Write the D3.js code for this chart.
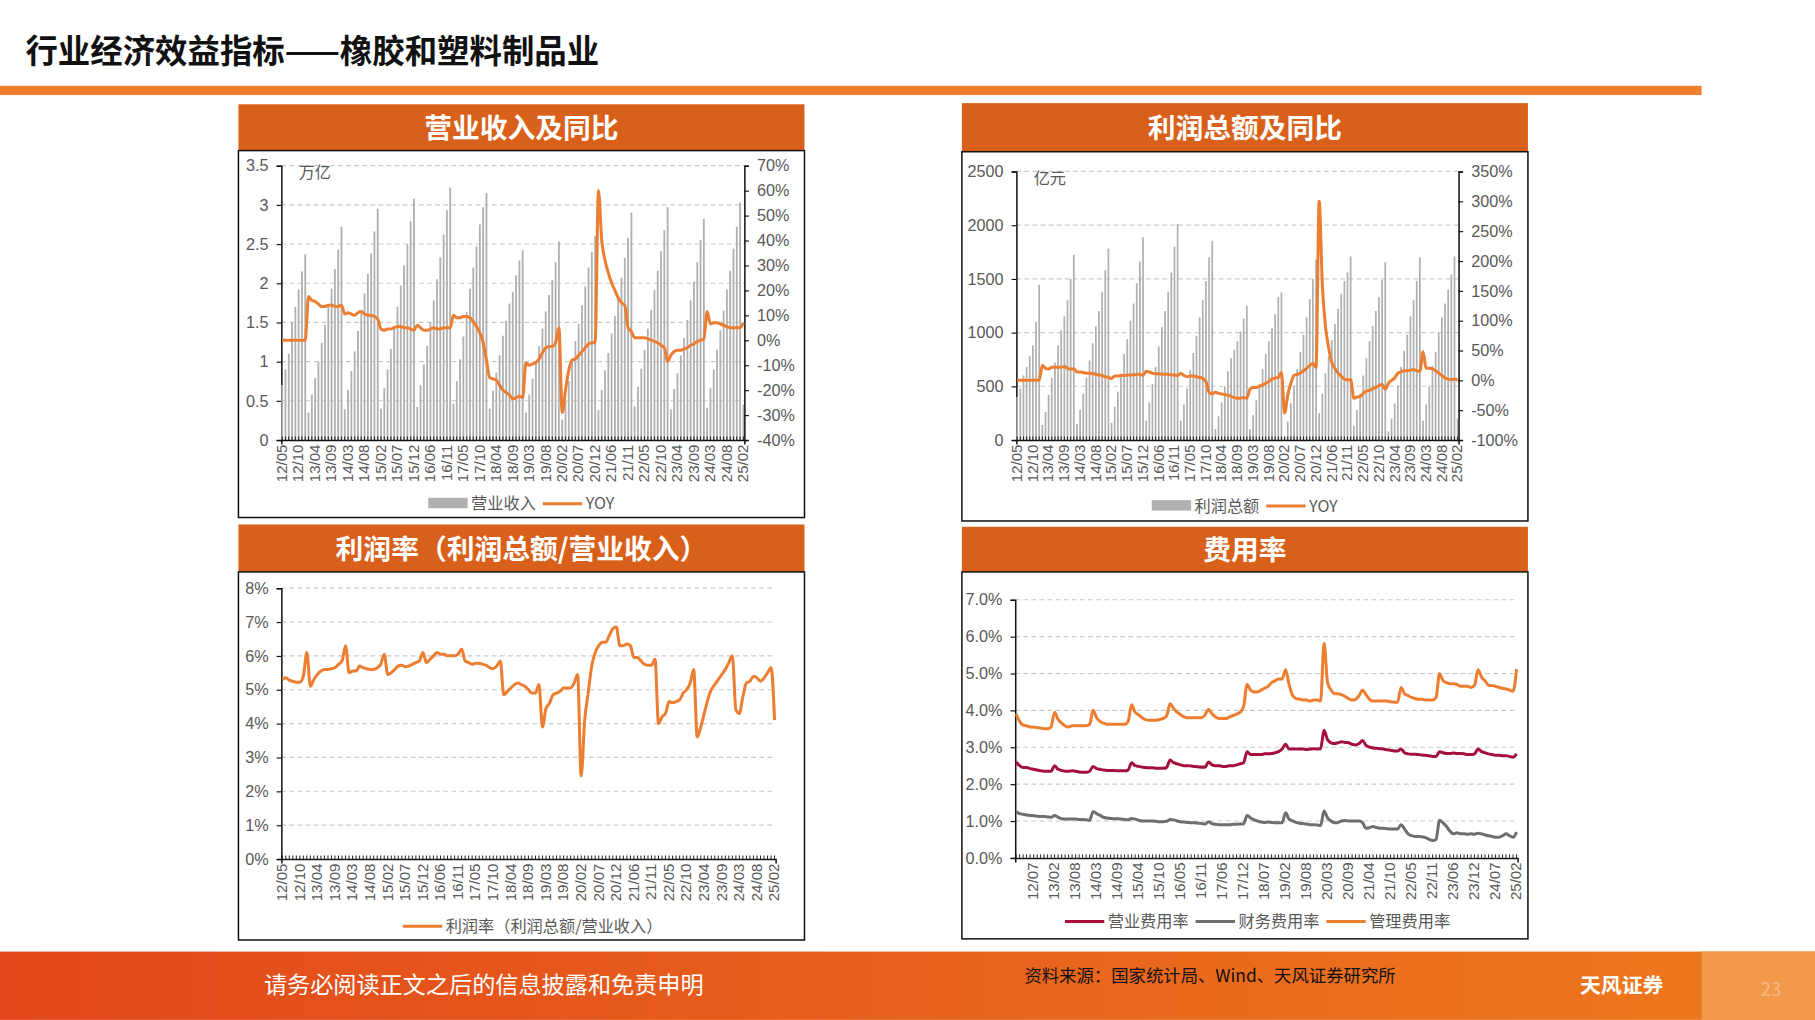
<!DOCTYPE html>
<html><head><meta charset="utf-8">
<script src="https://cdn.jsdelivr.net/npm/d3@7"></script>
<style>body{margin:0;background:#fff}svg{display:block;font-family:"Noto Sans CJK SC","Noto Sans",sans-serif}</style>
</head><body>
<svg id="c" width="1815" height="1020" viewBox="0 0 1568 881"></svg>
<script>
// monthly (Jan merged into Feb) series, 2012/05 .. 2025/02
const revenue = [
  0.70,0.90,1.10,1.50,1.70,1.92,2.15,2.37,
  0.35,0.58,0.79,1.00,1.24,1.47,1.70,1.93,2.18,2.43,2.72,
  0.39,0.64,0.88,1.13,1.39,1.63,1.87,2.12,2.38,2.66,2.95,
  0.40,0.66,0.90,1.16,1.45,1.70,1.97,2.23,2.50,2.79,3.08,
  0.42,0.70,0.96,1.20,1.50,1.78,2.05,2.33,2.62,2.93,3.22,
  0.46,0.75,1.03,1.32,1.63,1.93,2.20,2.47,2.75,2.97,3.15,
  0.40,0.63,0.86,1.08,1.33,1.52,1.74,1.89,2.10,2.29,2.42,
  0.35,0.58,0.78,1.00,1.20,1.42,1.64,1.85,2.04,2.27,2.53,
  0.26,0.50,0.75,1.00,1.26,1.48,1.72,1.96,2.20,2.40,2.60,
  0.38,0.64,0.89,1.11,1.36,1.58,1.82,2.07,2.32,2.58,2.90,
  0.43,0.68,0.91,1.15,1.42,1.66,1.91,2.16,2.41,2.68,2.97,
  0.39,0.65,0.85,1.08,1.30,1.53,1.78,2.02,2.27,2.55,2.82,
  0.41,0.66,0.90,1.15,1.40,1.65,1.92,2.16,2.44,2.72,3.03,
  0.45];
const revenueYoy = [
  0,0,0,0,0,0,0,0,
  17.5,16,15.5,14.5,13.5,13.5,14,14,13.5,13.5,14,
  10.5,11,10.5,10,11,11.5,10.5,10,10,9.5,8.5,
  4.5,4,4.5,4.5,5,5.5,5.5,5,5,4.5,4,
  6,5,4,4,4.5,5,4.5,4.5,5,5,5,
  10,9,9,9.5,9.5,9,7.5,5.5,3,-1,-8,
  -15,-15.5,-16,-18,-20,-21,-22,-23.5,-23,-22.5,-23,
  -9,-10,-9.5,-9,-7.5,-5,-3,-2.5,-2.5,-1,5,
  -29,-20,-12,-8,-7.5,-6,-4.5,-3,-1.5,-1,-1,
  60,40,32,27,23,20,17,15,14,5,3.5,
  1,1,1,1,0.5,0,-0.5,-1,-2,-3,-8.5,
  -6,-4.5,-4,-4,-3.5,-3,-2,-1.5,-0.5,0,0.5,
  11.5,6.5,7,7,6.5,6,5.5,5,5,5,5,
  7];
const profit = [
  400,480,600,680,780,880,1100,1444,
  140,260,420,580,720,880,1020,1150,1300,1500,1724,
  150,280,430,580,740,900,1060,1200,1380,1580,1780,
  160,310,450,620,800,940,1110,1270,1460,1660,1888,
  180,350,520,680,870,1050,1200,1380,1560,1800,2012,
  180,330,480,650,810,970,1140,1300,1480,1700,1854,
  100,220,350,500,640,760,840,920,1010,1130,1249,
  100,230,370,520,660,800,920,1040,1170,1330,1373,
  30,170,340,500,660,820,980,1140,1310,1500,1680,
  250,430,620,780,930,1080,1220,1360,1480,1560,1708,
  130,280,430,600,760,920,1060,1200,1330,1490,1655,
  80,200,340,510,680,830,980,1150,1300,1480,1700,
  180,330,500,690,820,1000,1140,1270,1400,1540,1708,
  200];
const profitYoy = [
  0,0,0,0,0,0,0,0,
  25,20,19,22,22,22,22,23,20,19,19,
  14,14,13,12,12,11,10,9,8,6,5,
  3,7,7,8,8,9,9,9,10,10,8,
  15,14,12,11,11,10,10,10,9,9,8,
  12,8,6,7,7,6,5,3,-2,-20,-23,
  -20,-22,-23,-24,-25,-27,-29,-30,-30,-29,-30,
  -15,-12,-12,-10,-8,-5,-2,2,4,5,13,
  -55,-25,-5,8,10,12,16,20,25,28,22,
  300,160,90,55,30,20,12,7,2,1,1,
  -30,-28,-27,-22,-18,-17,-14,-12,-9,-7,-15,
  -5,0,4,12,14,16,16,17,18,16,15,
  48,20,20,19,16,12,8,4,2,1,2,
  0];
const profitRate = [
  5.3,5.35,5.28,5.25,5.22,5.22,5.4,6.1,
  5.1,5.3,5.45,5.55,5.6,5.6,5.62,5.65,5.75,5.85,6.3,
  5.5,5.55,5.55,5.7,5.65,5.62,5.6,5.6,5.65,5.75,6.05,
  5.45,5.5,5.6,5.7,5.72,5.68,5.7,5.75,5.8,5.85,6.1,
  5.8,5.9,6.0,6.1,6.05,6.05,6.0,6.0,6.0,6.05,6.2,
  5.85,5.8,5.75,5.78,5.78,5.75,5.72,5.65,5.62,5.7,5.85,
  4.85,4.95,5.05,5.15,5.2,5.15,5.1,5.0,4.9,4.9,5.15,
  3.9,4.45,4.6,4.85,4.9,4.95,5.05,5.05,5.05,5.2,5.45,
  2.45,4.1,4.9,5.7,6.1,6.3,6.4,6.4,6.6,6.8,6.85,
  6.3,6.3,6.35,6.3,5.95,5.95,5.85,5.75,5.72,5.72,5.9,
  4.0,4.2,4.3,4.65,4.62,4.65,4.7,4.9,5.0,5.2,5.6,
  3.6,3.9,4.3,4.7,5.0,5.15,5.3,5.45,5.6,5.8,6.0,
  4.4,4.3,4.8,5.2,5.25,5.4,5.35,5.25,5.35,5.5,5.65,
  4.1];
// 2012/02 .. 2025/02
const salesFee = [
  2.6,2.5,2.45,2.45,2.42,2.4,2.38,2.36,2.35,2.35,2.35,
  2.5,2.4,2.37,2.35,2.35,2.36,2.35,2.33,2.32,2.32,2.35,
  2.48,2.42,2.4,2.38,2.37,2.37,2.37,2.36,2.36,2.36,2.38,
  2.58,2.5,2.48,2.46,2.45,2.44,2.44,2.43,2.43,2.43,2.45,
  2.65,2.58,2.55,2.52,2.5,2.5,2.49,2.48,2.47,2.46,2.46,
  2.6,2.52,2.5,2.5,2.48,2.48,2.5,2.5,2.52,2.55,2.58,
  2.88,2.8,2.8,2.8,2.8,2.82,2.82,2.83,2.85,2.88,2.95,
  3.08,2.95,2.95,2.95,2.95,2.95,2.94,2.95,2.96,2.95,2.96,
  3.45,3.2,3.12,3.1,3.12,3.15,3.13,3.12,3.08,3.06,3.1,
  3.18,3.05,3.0,2.98,2.97,2.96,2.95,2.93,2.92,2.9,2.9,
  2.95,2.85,2.82,2.81,2.81,2.8,2.79,2.78,2.77,2.75,2.75,
  2.88,2.85,2.83,2.83,2.84,2.83,2.83,2.82,2.8,2.8,2.82,
  2.95,2.88,2.85,2.82,2.8,2.78,2.78,2.77,2.77,2.75,2.73,
  2.82];
const financeFee = [
  1.25,1.2,1.18,1.16,1.15,1.14,1.13,1.12,1.12,1.11,1.1,
  1.15,1.1,1.06,1.05,1.05,1.05,1.05,1.04,1.04,1.03,1.02,
  1.25,1.2,1.15,1.1,1.08,1.07,1.06,1.06,1.05,1.04,1.03,
  1.07,1.05,1.02,1.0,1.0,1.0,1.0,0.99,0.98,0.98,0.99,
  1.04,1.03,1.0,0.98,0.97,0.96,0.95,0.95,0.94,0.93,0.92,
  0.98,0.93,0.91,0.9,0.9,0.9,0.9,0.91,0.91,0.92,0.92,
  1.15,1.08,1.03,1.0,0.97,0.96,0.97,0.96,0.95,0.95,0.95,
  1.22,1.05,1.0,0.96,0.94,0.93,0.92,0.9,0.9,0.89,0.88,
  1.27,1.08,1.0,0.95,0.96,1.0,1.01,1.0,1.0,1.0,1.0,
  0.95,0.8,0.82,0.85,0.82,0.8,0.8,0.79,0.78,0.78,0.78,
  0.9,0.78,0.65,0.6,0.58,0.58,0.57,0.55,0.5,0.47,0.5,
  1.02,0.95,0.85,0.72,0.65,0.68,0.65,0.65,0.64,0.65,0.64,
  0.67,0.65,0.62,0.6,0.58,0.56,0.56,0.6,0.65,0.6,0.56,
  0.7];
const adminFee = [
  3.9,3.7,3.6,3.58,3.55,3.55,3.53,3.52,3.5,3.5,3.55,
  3.95,3.75,3.65,3.58,3.55,3.58,3.58,3.58,3.58,3.58,3.62,
  4.0,3.8,3.7,3.65,3.62,3.62,3.62,3.62,3.62,3.62,3.7,
  4.15,3.95,3.88,3.8,3.75,3.73,3.73,3.73,3.75,3.78,3.85,
  4.18,4.05,3.95,3.88,3.82,3.8,3.8,3.8,3.8,3.8,3.88,
  4.02,3.9,3.82,3.78,3.78,3.78,3.82,3.86,3.9,3.95,4.1,
  4.7,4.55,4.5,4.5,4.55,4.6,4.65,4.75,4.8,4.85,4.85,
  5.1,4.7,4.4,4.32,4.3,4.28,4.28,4.25,4.28,4.28,4.25,
  5.82,4.75,4.55,4.45,4.45,4.42,4.38,4.32,4.28,4.3,4.4,
  4.55,4.42,4.3,4.25,4.25,4.25,4.25,4.25,4.23,4.22,4.22,
  4.62,4.45,4.4,4.35,4.32,4.3,4.3,4.28,4.28,4.28,4.35,
  5.0,4.8,4.75,4.72,4.72,4.7,4.65,4.65,4.65,4.62,4.68,
  5.1,4.9,4.8,4.68,4.67,4.65,4.62,4.6,4.58,4.55,4.52,
  5.12];

function months(startYear, startMonth, n) {
  const out = [];
  let y = startYear, m = startMonth;
  while (out.length < n) {
    if (m !== 1) out.push(String(y % 100).padStart(2, '0') + '/' + String(m).padStart(2, '0'));
    m++; if (m > 12) { m = 1; y++; }
  }
  return out;
}
const monthsA = months(2012, 5, revenue.length);
const monthsB = months(2012, 2, salesFee.length);

const ORANGE = '#ED7D31', GREY = '#595959';
const svg = d3.select('#c');

// page chrome
svg.append('text').attr('x', 22).attr('y', 54).attr('font-size', 28).attr('font-weight', 700)
  .attr('fill', '#111').text('行业经济效益指标——橡胶和塑料制品业');
svg.append('rect').attr('x', 0).attr('y', 74).attr('width', 1470).attr('height', 8).attr('fill', '#EE7D2E');
const grad = svg.append('defs').append('linearGradient').attr('id', 'fg');
grad.append('stop').attr('offset', '0').attr('stop-color', '#E2481B');
grad.append('stop').attr('offset', '1').attr('stop-color', '#EE7A1E');
svg.append('rect').attr('x', 0).attr('y', 822).attr('width', 1568).attr('height', 59).attr('fill', 'url(#fg)');
svg.append('rect').attr('x', 1470).attr('y', 822).attr('width', 98).attr('height', 59).attr('fill', '#F29A4A');
svg.append('text').attr('x', 228).attr('y', 858).attr('font-size', 20).attr('fill', '#fff').text('请务必阅读正文之后的信息披露和免责申明');
svg.append('text').attr('x', 885).attr('y', 848).attr('font-size', 15).attr('fill', '#111').text('资料来源：国家统计局、Wind、天风证券研究所');
svg.append('text').attr('x', 1365).attr('y', 858).attr('font-size', 18).attr('font-weight', 700).attr('fill', '#fff').text('天风证券');
svg.append('text').attr('x', 1530).attr('y', 860).attr('font-size', 16).attr('fill', '#F6B982').attr('text-anchor', 'middle').text('23');

function panel(x, y, w, hh, h, title) {
  svg.append('rect').attr('x', x).attr('y', y).attr('width', w).attr('height', hh).attr('fill', '#D9601A');
  svg.append('text').attr('x', x + w / 2).attr('y', y + hh / 2 + 9).attr('text-anchor', 'middle')
    .attr('font-size', 24).attr('font-weight', 700).attr('fill', '#fff').text(title);
  svg.append('rect').attr('x', x).attr('y', y + hh).attr('width', w).attr('height', h - hh)
    .attr('fill', 'none').attr('stroke', '#111').attr('stroke-width', 1.3);
}
panel(206, 90, 489, 40, 357, '营业收入及同比');
panel(831, 89, 489, 42, 361, '利润总额及同比');
panel(206, 453, 489, 41, 359, '利润率（利润总额/营业收入）');
panel(831, 455, 489, 39, 356, '费用率');

function chart(o) {
  const g = svg.append('g');
  const x = d3.scaleBand().domain(o.cats).range([o.x0, o.x1]).paddingInner(0.45);
  const yL = d3.scaleLinear().domain(o.yDom).range([o.y1, o.y0]);
  const yLticks = d3.range(o.yDom[0], o.yDom[1] + 1e-9, o.yStep);
  g.selectAll('.grid').data(yLticks.slice(1)).join('line')
    .attr('x1', o.x0).attr('x2', o.x1).attr('y1', yL).attr('y2', yL)
    .attr('stroke', '#c9c9c9').attr('stroke-dasharray', '4,3');
  const la = g.append('g').attr('transform', `translate(${o.x0},0)`)
    .call(d3.axisLeft(yL).tickValues(yLticks).tickSize(4).tickFormat(o.yFmt));
  la.select('.domain').attr('stroke', '#111').attr('stroke-width', 1.3);
  la.selectAll('.tick line').attr('stroke', '#111');
  la.selectAll('text').attr('font-size', 14).attr('fill', GREY).attr('font-family', 'Liberation Sans, sans-serif').attr('dx', -4);
  if (o.bars) {
    g.selectAll('.bar').data(o.bars).join('rect')
      .attr('x', (d, i) => x(o.cats[i])).attr('width', x.bandwidth())
      .attr('y', d => yL(d)).attr('height', d => o.y1 - yL(d)).attr('fill', '#B0B0B0');
  }
  let yR = yL;
  if (o.rDom) {
    yR = d3.scaleLinear().domain(o.rDom).range([o.y1, o.y0]);
    const ra = g.append('g').attr('transform', `translate(${o.x1},0)`)
      .call(d3.axisRight(yR).tickValues(d3.range(o.rDom[0], o.rDom[1] + 1e-9, o.rStep)).tickSize(4).tickFormat(d => d + '%'));
    ra.select('.domain').attr('stroke', '#111').attr('stroke-width', 1.3);
    ra.selectAll('.tick line').attr('stroke', '#111');
    ra.selectAll('text').attr('font-size', 14).attr('fill', GREY).attr('font-family', 'Liberation Sans, sans-serif').attr('dx', 4);
  }
  const ba = g.append('g').attr('transform', `translate(0,${o.y1})`)
    .call(d3.axisBottom(x).tickSize(4).tickValues(o.cats.filter((c, i) => (o.cats.length - 1 - i) % o.every === 0)));
  ba.select('.domain').attr('stroke', '#111').attr('stroke-width', 1.3);
  ba.selectAll('.tick line').attr('stroke', 'none');
  g.selectAll('.mt').data(o.cats).join('line')
    .attr('x1', d => x(d) + x.bandwidth() / 2).attr('x2', d => x(d) + x.bandwidth() / 2)
    .attr('y1', o.y1).attr('y2', o.y1 - 3).attr('stroke', '#111').attr('stroke-width', 0.8);
  ba.selectAll('text').attr('font-size', 13).attr('fill', GREY).attr('font-family', 'Liberation Sans, sans-serif')
    .attr('transform', 'rotate(-90)').attr('text-anchor', 'end').attr('dx', -4).attr('dy', '0.32em').attr('x', 0).attr('y', 0);
  o.lines.forEach(l => {
    const line = d3.line().x((d, i) => x(o.cats[i]) + x.bandwidth() / 2).y(d => (l.right ? yR : yL)(d)).curve(d3.curveMonotoneX);
    g.append('path').datum(l.data).attr('d', line).attr('fill', 'none').attr('stroke', l.color)
      .attr('stroke-width', 2.6).attr('stroke-linejoin', 'round');
  });
  if (o.unit) g.append('text').attr('x', o.x0 + 15).attr('y', o.y0 + 11).attr('font-size', 14).attr('fill', GREY).text(o.unit);
  // legend
  const lg = g.append('g');
  let cx = o.legX;
  o.legend.forEach(it => {
    if (it.bar) lg.append('rect').attr('x', cx).attr('y', o.legY - 5).attr('width', 34).attr('height', 9).attr('fill', '#B0B0B0');
    else lg.append('line').attr('x1', cx).attr('x2', cx + 34).attr('y1', o.legY).attr('y2', o.legY).attr('stroke', it.color).attr('stroke-width', 2.6);
    const t = lg.append('text').attr('x', cx + 37).attr('y', o.legY + 5).attr('font-size', 14).attr('fill', GREY).text(it.name);
    cx += 37 + t.node().getComputedTextLength() + 6;
  });
}

chart({ cats: monthsA, x0: 243, x1: 643, y0: 143, y1: 380, yDom: [0, 3.5], yStep: 0.5, yFmt: d => d,
  bars: revenue, rDom: [-40, 70], rStep: 10, every: 5, unit: '万亿',
  lines: [{ data: revenueYoy, color: ORANGE, right: true }],
  legX: 370, legY: 435, legend: [{ bar: true, name: '营业收入' }, { color: ORANGE, name: 'YOY' }] });

chart({ cats: monthsA, x0: 878, x1: 1260, y0: 148, y1: 380, yDom: [0, 2500], yStep: 500, yFmt: d => d,
  bars: profit, rDom: [-100, 350], rStep: 50, every: 5, unit: '亿元',
  lines: [{ data: profitYoy, color: ORANGE, right: true }],
  legX: 995, legY: 437, legend: [{ bar: true, name: '利润总额' }, { color: ORANGE, name: 'YOY' }] });

chart({ cats: monthsA, x0: 243, x1: 670, y0: 508, y1: 742, yDom: [0, 8], yStep: 1, yFmt: d => d + '%',
  every: 5, lines: [{ data: profitRate, color: ORANGE }],
  legX: 348, legY: 800, legend: [{ color: ORANGE, name: '利润率（利润总额/营业收入）' }] });

chart({ cats: monthsB, x0: 877, x1: 1311, y0: 518, y1: 741, yDom: [0, 7], yStep: 1, yFmt: d => d.toFixed(1) + '%',
  every: 6, lines: [
    { data: salesFee, color: '#A50F3C' }, { data: financeFee, color: '#6E6E6E' }, { data: adminFee, color: ORANGE }],
  legX: 920, legY: 796, legend: [
    { color: '#A50F3C', name: '营业费用率' }, { color: '#6E6E6E', name: '财务费用率' }, { color: ORANGE, name: '管理费用率' }] });
</script>
</body></html>
